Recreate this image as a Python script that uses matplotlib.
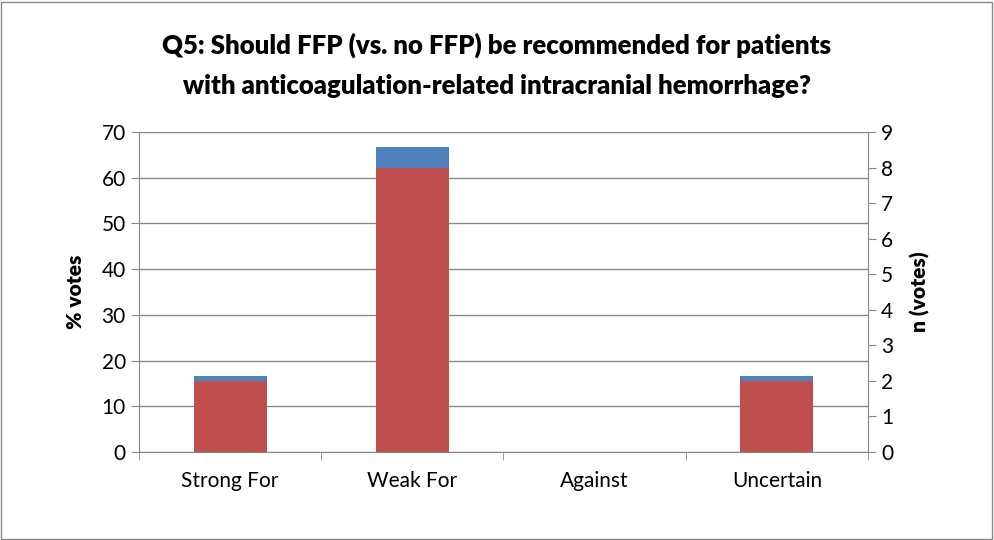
import numpy as np
import matplotlib
matplotlib.use("Agg")
import matplotlib.pyplot as plt
from matplotlib.patches import Rectangle

plt.rcParams['font.family'] = ['Lato', 'DejaVu Sans']

categories = ['Strong For', 'Weak For', 'Against', 'Uncertain']
pct_votes = [16.67, 66.67, 0, 16.67]
n_votes = [2, 8, 0, 2]

fig = plt.figure(figsize=(9.94, 5.4), dpi=100)
fig.patches.append(Rectangle((0.001, 0.002), 0.997, 0.995, transform=fig.transFigure,
                             fill=False, edgecolor='#888888', linewidth=1))

ax = fig.add_axes([0.1398, 0.163, 0.7334, 0.5926])
x = np.arange(len(categories))
ax.bar(x, pct_votes, width=0.4, color='#4F81BD', zorder=2)
ax.set_xlim(-0.5, 3.5)
ax.set_ylim(0, 70)
ax.set_yticks(range(0, 71, 10))
ax.set_xticks(x)
ax.set_xticklabels(categories, fontsize=15)
ax.set_xticks(np.arange(-0.5, 3.6, 1), minor=True)
ax.tick_params(axis='x', which='major', length=0, pad=14)
ax.tick_params(axis='x', which='minor', length=6, color='#888888', direction='out')
ax.tick_params(axis='y', labelsize=15, length=6, color='#888888', direction='out')
ax.yaxis.grid(True, color='#888888', linewidth=1, zorder=0)
ax.set_axisbelow(True)
for s in ['top', 'right']:
    ax.spines[s].set_visible(False)
for s in ['left', 'bottom']:
    ax.spines[s].set_color('#888888')
ax.set_ylabel('% votes', fontsize=15, fontweight='heavy', labelpad=12)

ax2 = ax.twinx()
ax2.bar(x, n_votes, width=0.4, color='#C0504D', zorder=3)
ax2.set_ylim(0, 9)
ax2.set_yticks(range(0, 10))
ax2.tick_params(axis='y', labelsize=15, length=6, color='#888888', direction='out')
for s in ['top', 'left', 'bottom']:
    ax2.spines[s].set_visible(False)
ax2.spines['right'].set_color('#888888')
ax2.set_ylabel('n (votes)', fontsize=15, fontweight='heavy', labelpad=12)

fig.text(0.5, 0.88, 'Q5: Should FFP (vs. no FFP) be recommended for patients\n'
         'with anticoagulation-related intracranial hemorrhage?',
         ha='center', va='center', fontsize=18.5, fontweight='heavy', linespacing=1.8)

fig.savefig('out.png', dpi=100)
